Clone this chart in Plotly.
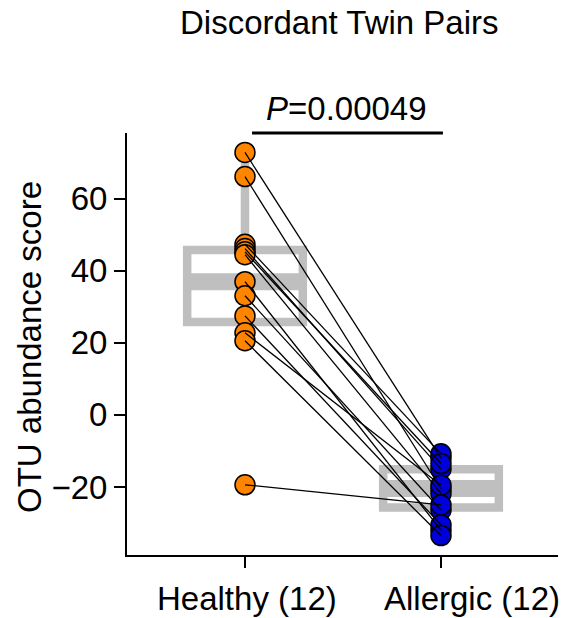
import plotly.graph_objects as go

# ---- data ----
categories = ["Healthy (12)", "Allergic (12)"]
healthy = [72.9, 66.2, 47.4, 46.2, 45.3, 44.5, 37.0, 33.1, 27.5, 22.8, 20.6, -19.4]
allergic = [-12.0, -20.5, -10.8, -15.0, -13.5, -21.8, -32.0, -26.4, -30.5, -19.5, -33.5, -25.0]

# box summary values (q1, median, q3, lower whisker, upper whisker)
box_q1 = [25.8, -25.7]
box_median = [37.0, -20.4]
box_q3 = [45.8, -15.1]
box_lower = [20.6, -33.5]
box_upper = [72.9, -10.8]

y_ticks = [-20, 0, 20, 40, 60]
title_text = "Discordant Twin Pairs"
p_text = "<i>P</i>=0.00049"
y_title = "OTU abundance score"

FONT = "Liberation Sans, Arial, Helvetica, sans-serif"
GRAY = "#bfbfbf"
BOXW = 0.59
LABEL_SHIFT = [2, 31]  # px offsets of category labels (as in the reference)

fig = go.Figure()

for i in range(2):
    fig.add_trace(go.Box(
        x=[i], q1=[box_q1[i]], median=[box_median[i]], q3=[box_q3[i]],
        lowerfence=[box_lower[i]], upperfence=[box_upper[i]],
        width=BOXW, whiskerwidth=0, boxpoints=False,
        line=dict(color=GRAY, width=8.5), fillcolor="rgba(0,0,0,0)",
        showlegend=False, hoverinfo="skip"))
    fig.add_trace(go.Scatter(
        x=[i - BOXW / 2, i + BOXW / 2], y=[box_median[i], box_median[i]],
        mode="lines", line=dict(color=GRAY, width=17),
        showlegend=False, hoverinfo="skip"))

fig.add_trace(go.Scatter(
    x=[0] * len(healthy), y=healthy, mode="markers",
    marker=dict(size=20, color="#ff8400", line=dict(color="black", width=1.5)),
    showlegend=False))
fig.add_trace(go.Scatter(
    x=[1] * len(allergic), y=allergic, mode="markers",
    marker=dict(size=20, color="#0000d8", line=dict(color="black", width=1.5)),
    showlegend=False))

lx, ly = [], []
for h, a in zip(healthy, allergic):
    lx += [0, 1, None]
    ly += [h, a, None]
fig.add_trace(go.Scatter(x=lx, y=ly, mode="lines",
                         line=dict(color="black", width=1.3),
                         showlegend=False, hoverinfo="skip"))

axis_common = dict(showline=True, linecolor="black", linewidth=2,
                   ticks="outside", ticklen=11, tickwidth=2, tickcolor="black",
                   showgrid=False, zeroline=False, automargin=False,
                   tickfont=dict(family=FONT, size=33, color="black"))

annotations = [
    dict(text=title_text, xref="paper", yref="paper", x=0.492, y=1.262,
         xanchor="center", yanchor="middle", showarrow=False,
         font=dict(family=FONT, size=33, color="black")),
    dict(text=p_text, xref="x", yref="paper", x=0.519, y=1.058,
         xanchor="center", yanchor="middle", showarrow=False,
         font=dict(family=FONT, size=33, color="black")),
    dict(text=y_title, xref="paper", yref="paper", x=-0.225, y=0.493,
         xanchor="center", yanchor="middle", textangle=-90, showarrow=False,
         font=dict(family=FONT, size=33, color="black")),
]
for i, cat in enumerate(categories):
    annotations.append(dict(text=cat, xref="x", yref="paper", x=i, y=-0.103,
                            xshift=LABEL_SHIFT[i], xanchor="center",
                            yanchor="middle", showarrow=False,
                            font=dict(family=FONT, size=33, color="black")))

fig.update_layout(
    width=569, height=618,
    margin=dict(l=127, r=11, t=133, b=63),
    plot_bgcolor="white", paper_bgcolor="white",
    xaxis=dict(range=[-0.602, 1.597], tickvals=[0, 1], showticklabels=False,
               **axis_common),
    yaxis=dict(range=[-38.9, 78.3], tickvals=y_ticks, **axis_common),
    shapes=[dict(type="line", xref="x", yref="paper", x0=0.036, x1=1.01,
                 y0=1.0, y1=1.0, line=dict(color="black", width=3))],
    annotations=annotations,
)

fig.write_html("out.html")
